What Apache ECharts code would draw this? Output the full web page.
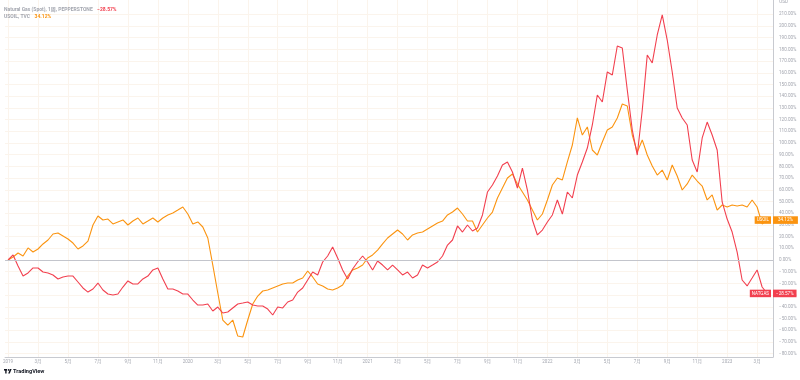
<!DOCTYPE html>
<html>
<head>
<meta charset="utf-8">
<script src="https://cdn.jsdelivr.net/npm/echarts@6/dist/echarts.min.js"></script>
<style>html,body{margin:0;padding:0;background:#fff;}#c{width:800px;height:380px;}</style>
</head>
<body>
<div id="c"></div>
<script>
// Dates: 1st, 11th and 21st of each month, Jan 2019 .. Mar 2023
const dates = [];
for (let y = 2019; y <= 2023; y++) {
  for (let mo = 1; mo <= 12; mo++) {
    for (const d of [1, 11, 21]) {
      if (dates.length < 153) dates.push(y + '-' + String(mo).padStart(2, '0') + '-' + String(d).padStart(2, '0'));
    }
  }
}

// Natural Gas (Spot) % change
const natgas = [
  0, 4.3, -5.1, -13.7, -11.1, -6.8, -6.8, -10.3, -11.1, -12.8,
  -16.2, -14.5, -13.7, -13.7, -18.8, -23.9, -27.4, -24.8, -19.7, -25.6,
  -29.1, -29.9, -29.1, -23.1, -17.9, -20.5, -20.5, -16.2, -13.7, -8.5,
  -6.8, -16.2, -24.8, -24.8, -26.5, -29.1, -29.1, -34.2, -38.5, -38.5,
  -37.6, -43.6, -40.2, -45.3, -44.4, -41.0, -37.6, -36.8, -35.9, -38.5,
  -39.3, -39.3, -41.9, -47.0, -40.2, -41.0, -35.9, -34.2, -27.4, -23.9,
  -17.1, -10.3, -12.8, -1.7, 3.4, 11.1, 1.7, -8.5, -16.2, -7.7,
  -1.7, 3.4, -1.7, -8.5, -0.9, -4.3, -8.5, -4.3, -8.5, -12.8,
  -10.3, -15.4, -12.8, -4.3, -6.8, -4.3, -1.7, 3.4, 12.8, 17.1,
  29.1, 23.9, 29.9, 24.8, 27.4, 38.5, 58.1, 64.1, 71.8, 81.2,
  83.8, 75.2, 61.5, 78.6, 59.8, 34.2, 21.4, 25.6, 32.5, 38.5,
  51.3, 39.3, 58.1, 53.0, 72.6, 83.8, 95.7, 115.4, 141.0, 135.0,
  160.7, 158.1, 182.9, 181.2, 145.3, 111.1, 89.7, 128.2, 175.2, 168.4,
  192.3, 209.4, 188.0, 160.7, 129.9, 121.4, 115.4, 85.5, 75.2, 104.3,
  117.9, 106.8, 94.0, 49.6, 35.0, 23.9, 6.8, -17.1, -22.2, -15.4,
  -8.5, -23.1, -28.57
];

// USOIL % change
const usoil = [
  0, 2.6, 6.0, 3.4, 10.3, 6.8, 9.4, 13.7, 17.1, 22.2,
  23.1, 20.5, 17.9, 14.5, 9.4, 12.0, 16.2, 29.9, 37.6, 34.2,
  35.0, 30.8, 32.5, 34.2, 29.9, 33.3, 35.9, 30.8, 33.3, 35.9,
  32.5, 35.9, 38.5, 40.2, 42.7, 45.3, 39.3, 30.8, 32.5, 28.2,
  18.8, -4.3, -28.2, -51.3, -55.6, -51.3, -65.0, -65.8, -51.3, -37.6,
  -30.8, -26.5, -25.6, -23.9, -22.2, -20.5, -19.7, -19.7, -17.1, -15.4,
  -9.4, -14.5, -20.5, -22.2, -24.8, -25.6, -23.9, -21.4, -13.7, -8.5,
  -6.8, -4.3, 1.7, 4.3, 8.5, 13.7, 18.8, 22.2, 25.6, 22.2,
  17.1, 21.4, 23.1, 23.9, 26.5, 29.1, 31.6, 33.3, 38.5, 41.0,
  44.4, 39.3, 33.3, 33.3, 23.9, 29.9, 35.9, 41.0, 53.0, 61.5,
  70.1, 73.5, 65.0, 58.1, 51.3, 42.7, 34.2, 39.3, 51.3, 64.1,
  70.1, 68.4, 83.8, 98.3, 121.4, 106.8, 113.7, 94.0, 89.7, 100.9,
  111.1, 113.7, 121.4, 133.3, 131.6, 106.8, 92.3, 102.6, 89.7, 80.3,
  72.6, 76.9, 68.4, 81.2, 71.8, 59.8, 65.0, 72.6, 67.5, 63.2,
  51.3, 55.6, 42.7, 47.0, 45.3, 47.0, 46.2, 47.0, 45.3, 51.3,
  45.3, 30.8, 34.12
];

const yTicks = [-80,-70,-60,-50,-40,-30,-20,-10,0,10,20,30,40,50,60,70,80,90,100,110,120,130,140,150,160,170,180,190,200,210];
const xTickMonths = [0,2,4,6,8,10,12,14,16,18,20,22,24,26,28,30,32,34,36,38,40,42,44,46,48,50];

const RED = '#f2404f', ORANGE = '#fb9410';
const FONT = "Roboto, 'Noto Sans CJK SC', sans-serif";
const HIDDEN = { width: 0, color: 'rgba(0,0,0,0)' };

function monthPos(s) {
  const [y, m, d] = s.split('-').map(Number);
  return (y - 2019) * 12 + (m - 1) + (d - 1) / 30;
}
function pct(v) { return (v < 0 ? '\u2212' : '') + Math.abs(v).toFixed(2) + '%'; }

const xs = dates.map(monthPos);
const natData = natgas.map((v, i) => [xs[i], v]);
const oilData = usoil.map((v, i) => [xs[i], v]);
const natLast = natgas[natgas.length - 1], oilLast = usoil[usoil.length - 1];

const chart = echarts.init(document.getElementById('c'), null, { renderer: 'canvas' });
chart.setOption({
  animation: false,
  backgroundColor: '#ffffff',
  textStyle: { fontFamily: FONT },
  title: [
    { left: 4, top: 1, padding: 0,
      text: '{n|Natural Gas (Spot), 1周, PEPPERSTONE} {v|' + pct(natLast) + '}',
      textStyle: { rich: { n: { fontSize: 5, color: '#a3a6af', fontFamily: FONT }, v: { fontSize: 5, color: RED, fontFamily: FONT } } } },
    { left: 4, top: 8, padding: 0,
      text: '{n|USOIL, TVC} {v|' + pct(oilLast) + '}',
      textStyle: { rich: { n: { fontSize: 5, color: '#a3a6af', fontFamily: FONT }, v: { fontSize: 5, color: ORANGE, fontFamily: FONT } } } }
  ],
  grid: { left: 0, right: 27, top: 0, bottom: 23, containLabel: false },
  xAxis: {
    type: 'value', min: -0.2, max: 51.06,
    axisLine: { show: true, onZero: false, lineStyle: { color: '#c8cad0', width: 1 } },
    axisTick: { show: false, customValues: xTickMonths },
    axisLabel: {
      customValues: xTickMonths, fontSize: 4.5, color: '#a3a6af', margin: 3, fontFamily: FONT,
      alignMinLabel: 'center',
      formatter: v => { const m = Math.round(v); return m % 12 === 0 ? String(2019 + m / 12) : ((m % 12) + 1) + '月'; }
    },
    splitLine: { show: true, lineStyle: { color: '#fbf4ec', width: 1 } }
  },
  yAxis: {
    type: 'value', position: 'right', min: -82.9, max: 222.2,
    axisLine: { show: true, onZero: false, lineStyle: { color: '#c8cad0', width: 1 } },
    axisTick: { show: false, customValues: yTicks },
    axisLabel: { customValues: yTicks, fontSize: 4.6, color: '#a3a6af', margin: 6, fontFamily: FONT, formatter: pct },
    splitLine: { show: true, lineStyle: { color: '#fbf4ec', width: 1 } }
  },
  graphic: [
    { type: 'text', right: 12, top: 0, style: { text: 'USD', fontSize: 4.6, fill: '#a3a6af', fontFamily: FONT } },
    { type: 'rect', left: 4, top: 369, shape: { width: 3, height: 1.6 }, style: { fill: '#131722' } },
    { type: 'rect', left: 5.2, top: 369, shape: { width: 1.4, height: 4.5 }, style: { fill: '#131722' } },
    { type: 'circle', shape: { cx: 8.6, cy: 369.9, r: 0.9 }, style: { fill: '#131722' } },
    { type: 'polygon', shape: { points: [[10, 369], [11.6, 369], [9.8, 373.5], [8.2, 373.5]] }, style: { fill: '#131722' } },
    { type: 'text', left: 13, top: 368.6, style: { text: 'TradingView', fontSize: 5.6, fontWeight: 'bold', fill: '#131722', fontFamily: FONT } }
  ],
  series: [
    {
      name: 'USOIL', type: 'line', data: oilData, showSymbol: false, symbol: 'none',
      lineStyle: { color: ORANGE, width: 1.1 }, itemStyle: { color: ORANGE }, z: 3,
      markLine: {
        silent: true, symbol: 'none', animation: false,
        data: [
          { yAxis: oilLast, lineStyle: HIDDEN,
            label: { show: true, position: 'insideEnd', distance: 2, formatter: 'USOIL', color: '#fff', backgroundColor: ORANGE, fontSize: 4.5, padding: [1.5, 2], fontFamily: FONT } },
          { yAxis: oilLast, lineStyle: HIDDEN,
            label: { show: true, position: 'end', distance: 0, formatter: pct(oilLast), color: '#fff', backgroundColor: ORANGE, fontSize: 4.6, padding: [1.5, 5, 1.5, 5], fontFamily: FONT } }
        ]
      }
    },
    {
      name: 'NATGAS', type: 'line', data: natData, showSymbol: false, symbol: 'none',
      lineStyle: { color: RED, width: 1.1 }, itemStyle: { color: RED }, z: 4,
      markLine: {
        silent: true, symbol: 'none', animation: false,
        data: [
          { yAxis: 0, lineStyle: { color: '#c3c5cc', type: 'solid', width: 1 }, label: { show: false } },
          { yAxis: natLast, lineStyle: HIDDEN,
            label: { show: true, position: 'insideEnd', distance: 2, formatter: 'NATGAS', color: '#fff', backgroundColor: RED, fontSize: 4.5, padding: [1.5, 2], fontFamily: FONT } },
          { yAxis: natLast, lineStyle: HIDDEN,
            label: { show: true, position: 'end', distance: 0, formatter: pct(natLast), color: '#fff', backgroundColor: RED, fontSize: 4.6, padding: [1.5, 3, 1.5, 3], fontFamily: FONT } }
        ]
      }
    }
  ]
});
</script>
</body>
</html>
